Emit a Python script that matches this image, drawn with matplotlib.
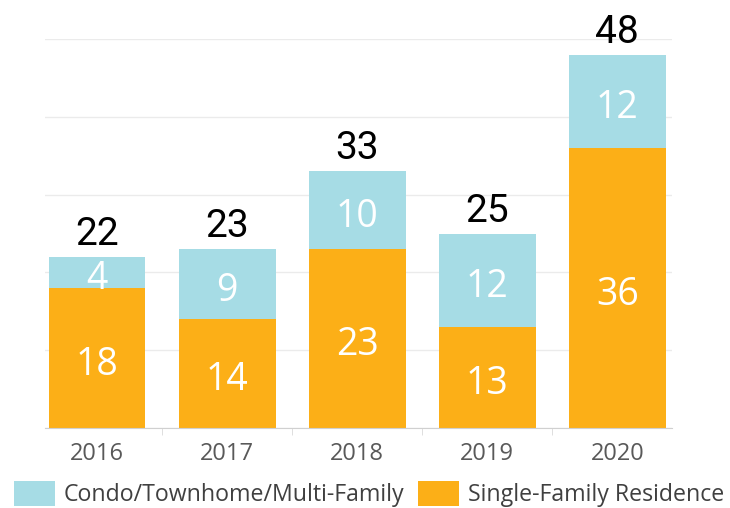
import matplotlib.pyplot as plt
import numpy as np

years = ['2016', '2017', '2018', '2019', '2020']
single_family = [18, 14, 23, 13, 36]
condo = [4, 9, 10, 12, 12]
totals = [s + c for s, c in zip(single_family, condo)]

orange = '#FCAF17'
blue = '#A6DCE5'

plt.rcParams['font.family'] = ['Open Sans', 'DejaVu Sans']

fig = plt.figure(figsize=(7.3, 5.08), dpi=100)
ax = fig.add_axes([45 / 730, 80 / 508, 627 / 730, 389 / 508])

x = np.arange(len(years))
b1 = ax.bar(x, single_family, width=0.745, color=orange, label='Single-Family Residence', zorder=2)
b2 = ax.bar(x, condo, width=0.745, bottom=single_family, color=blue,
            label='Condo/Townhome/Multi-Family', zorder=2)

# segment labels + totals
for i in range(len(years)):
    ax.annotate(str(single_family[i]), (x[i], single_family[i] / 2), xytext=(0, -12),
                textcoords='offset points', ha='center', va='baseline',
                color='white', fontsize=27)
    ax.annotate(str(condo[i]), (x[i], single_family[i] + condo[i] / 2), xytext=(0, -12),
                textcoords='offset points', ha='center', va='baseline',
                color='white', fontsize=27)
    ax.annotate(str(totals[i]), (x[i], totals[i]), xytext=(0, 8.6),
                textcoords='offset points', ha='center', va='baseline',
                color='black', fontsize=28, family=['Roboto', 'DejaVu Sans'],
                annotation_clip=False)

ax.set_xlim(-0.4, 4.42)
ax.set_ylim(0, 50)
ax.set_yticks(np.arange(0, 51, 10))
ax.yaxis.grid(True, color='#EBEBEB', linewidth=1, zorder=0)
ax.tick_params(axis='y', left=False, labelleft=False)
ax.set_xticks(x)
ax.set_xticklabels(years)
ax.tick_params(axis='x', length=0, labelsize=17, labelcolor='#595959', pad=10)
ax.set_xticks(np.arange(0.5, 4.5, 1), minor=True)
ax.tick_params(axis='x', which='minor', length=5, color='#D9D9D9')
for side in ['top', 'right', 'left']:
    ax.spines[side].set_visible(False)
ax.spines['bottom'].set_color('#D0D0D0')

fig.legend(handles=[b2, b1], loc='lower left', bbox_to_anchor=(-0.0094, -0.04), ncol=2,
           frameon=False, fontsize=16.7, handlelength=1.78, handleheight=1.3,
           handletextpad=0.38, columnspacing=0.58, labelcolor='#404040')

fig.savefig('out.png', dpi=100)
